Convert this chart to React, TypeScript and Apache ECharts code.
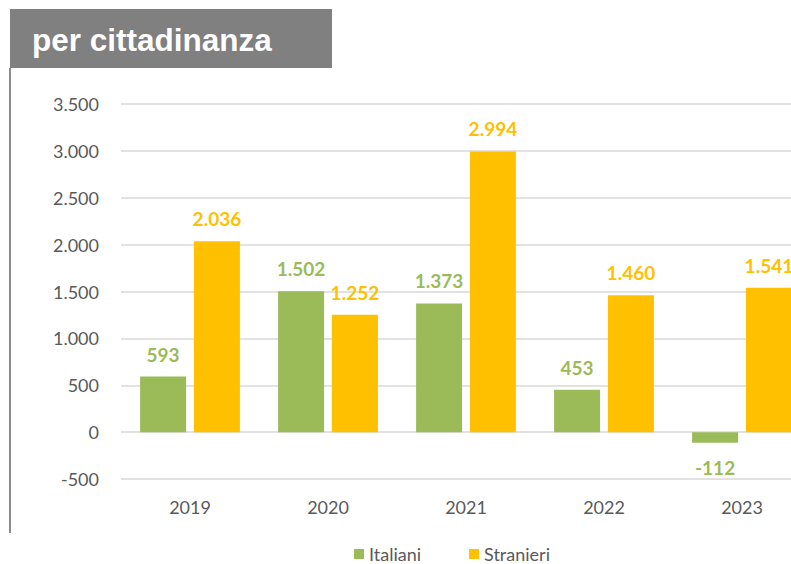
import React, { useEffect, useRef } from "react";
import * as echarts from "echarts";

const categories = ["2019", "2020", "2021", "2022", "2023"];
const italiani = [593, 1502, 1373, 453, -112];
const stranieri = [2036, 1252, 2994, 1460, 1541];
const seriesNames = ["Italiani", "Stranieri"];
const titleText = "per cittadinanza";

const fmt = (v: number) => {
  const s = Math.abs(v).toString().replace(/\B(?=(\d{3})+(?!\d))/g, ".");
  return (v < 0 ? "-" : "") + s;
};

export default function App() {
  const ref = useRef<HTMLDivElement>(null);
  useEffect(() => {
    document.body.style.overflow = "hidden";
    const chart = echarts.init(ref.current!, null, { renderer: "svg" });
    const font = "Lato, 'Open Sans', sans-serif";
    const labelBase = {
      show: true,
      position: "top" as const,
      distance: 13,
      fontSize: 19,
      fontWeight: "bold" as const,
      fontFamily: font,
      formatter: (p: any) => fmt(p.value),
    };
    chart.setOption({
      animation: false,
      backgroundColor: "#ffffff",
      grid: { left: 121, top: 104, width: 690, height: 375 },
      legend: {
        data: seriesNames,
        left: 354,
        top: 545,
        padding: 0,
        itemWidth: 10,
        itemHeight: 10,
        itemGap: 48,
        icon: "rect",
        textStyle: { fontSize: 18, lineHeight: 18, color: "#595959", fontFamily: font },
      },
      xAxis: {
        type: "category",
        data: categories,
        axisLine: { show: false },
        axisTick: { show: false },
        axisLabel: { fontSize: 18, color: "#595959", fontFamily: font, margin: 19 },
      },
      yAxis: {
        type: "value",
        min: -500,
        max: 3500,
        interval: 500,
        axisLine: { show: false },
        axisTick: { show: false },
        splitLine: { lineStyle: { color: "#d9d9d9", width: 1.5 } },
        axisLabel: {
          fontSize: 18,
          color: "#595959",
          fontFamily: font,
          margin: 22,
          formatter: (v: number) => fmt(v),
        },
      },
      series: [
        {
          name: seriesNames[0],
          type: "bar",
          barWidth: 46,
          barGap: "17%",
          itemStyle: { color: "#9BBB59" },
          label: { ...labelBase, color: "#9BBB59" },
          data: italiani.map((v) =>
            v < 0 ? { value: v, label: { position: "bottom", distance: 15 } } : v
          ),
        },
        {
          name: seriesNames[1],
          type: "bar",
          barWidth: 46,
          barGap: "17%",
          itemStyle: { color: "#FFC000" },
          label: { ...labelBase, color: "#FFC000" },
          data: stranieri,
        },
      ],
      graphic: [
        {
          type: "rect",
          shape: { x: 10, y: 9, width: 322, height: 59 },
          style: { fill: "#808080" },
        },
        {
          type: "rect",
          shape: { x: 9, y: 68, width: 2, height: 465 },
          style: { fill: "#8c8c8c" },
        },
        {
          type: "text",
          x: 32,
          y: 40,
          style: {
            text: titleText,
            fill: "#ffffff",
            fontSize: 31.5,
            fontWeight: "bold",
            fontFamily: "'Liberation Sans', Arial, sans-serif",
            verticalAlign: "middle",
          },
        },
      ],
    });
    return () => chart.dispose();
  }, []);
  return (
    <div style={{ position: "fixed", left: 0, top: 0, width: 791, height: 564, overflow: "hidden" }}>
      <div ref={ref} style={{ width: 830, height: 564 }} />
    </div>
  );
}
